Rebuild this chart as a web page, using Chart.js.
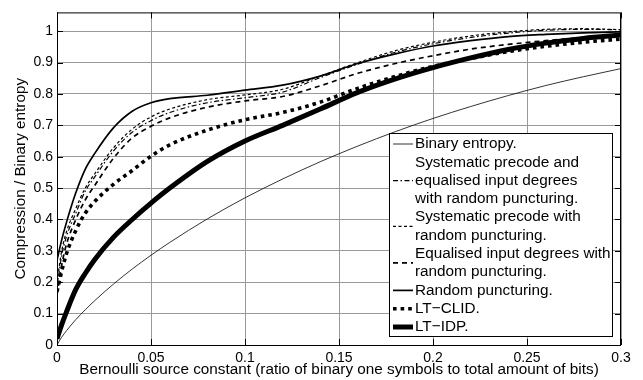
<!DOCTYPE html>
<html><head><meta charset="utf-8">
<script src="https://cdn.jsdelivr.net/npm/chart.js@4"></script>
<style>html,body{margin:0;padding:0;background:#fff}#wrap{width:643px;height:380px}</style>
</head><body><div id="wrap"><canvas id="c" width="643" height="380"></canvas></div>
<script>
// ---- data ----
const xValues = [0,0.0025,0.005,0.01,0.015,0.02,0.03,0.04,0.05,0.06,0.08,0.1,0.12,0.14,0.16,0.18,0.2,0.22,0.24,0.26,0.28,0.3];
const binaryEntropy = [0,0.025,0.045,0.081,0.112,0.141,0.194,0.242,0.286,0.327,0.402,0.469,0.529,0.584,0.634,0.680,0.722,0.760,0.795,0.827,0.855,0.881];
const sysEqPunct = [0.185,0.285,0.345,0.42,0.49,0.535,0.618,0.678,0.715,0.741,0.772,0.788,0.806,0.852,0.895,0.933,0.96,0.98,0.994,1.003,1.006,1.005];
const sysPunct = [0.2,0.3,0.36,0.435,0.50,0.545,0.628,0.688,0.727,0.752,0.782,0.797,0.815,0.857,0.90,0.938,0.965,0.985,0.998,1.006,1.008,1.005];
const eqPunct = [0.16,0.255,0.32,0.40,0.462,0.508,0.595,0.66,0.697,0.724,0.758,0.778,0.792,0.826,0.866,0.897,0.922,0.943,0.958,0.97,0.98,0.99];
const randomPunct = [0.27,0.335,0.39,0.485,0.56,0.61,0.692,0.745,0.772,0.785,0.796,0.812,0.828,0.857,0.897,0.928,0.953,0.97,0.983,0.99,0.995,0.998];
const ltClid = [0.17,0.235,0.29,0.365,0.42,0.457,0.512,0.556,0.602,0.638,0.685,0.718,0.741,0.774,0.818,0.856,0.888,0.913,0.935,0.952,0.965,0.975];
const ltIdp = [0.02,0.065,0.105,0.177,0.228,0.272,0.343,0.4,0.452,0.5,0.585,0.65,0.7,0.752,0.805,0.848,0.884,0.915,0.942,0.962,0.977,0.988];

const xTicks = [0,0.05,0.1,0.15,0.2,0.25,0.3];
const xTickLabels = ["0","0.05","0.1","0.15","0.2","0.25","0.3"];
const yTicks = [0,0.1,0.2,0.3,0.4,0.5,0.6,0.7,0.8,0.9,1];
const yTickLabels = ["0","0.1","0.2","0.3","0.4","0.5","0.6","0.7","0.8","0.9","1"];

const legendTexts = [
  ["Binary entropy."],
  ["Systematic precode and","equalised input degrees","with random puncturing."],
  ["Systematic precode with","random puncturing."],
  ["Equalised input degrees with","random puncturing."],
  ["Random puncturing."],
  ["LT\u2212CLID."],
  ["LT\u2212IDP."]
];
const xTitle = "Bernoulli source constant (ratio of binary one symbols to total amount of bits)";
const yTitle = "Compression / Binary entropy";

// ---- chart ----
const FONT = "'Liberation Sans', Arial, Helvetica, sans-serif";
const pts = arr => arr.map((v,i)=>({x:xValues[i], y:v}));
function ds(data, width, dash){
  return {data: pts(data), borderColor:'#000', borderWidth: width, borderDash: dash,
    borderCapStyle:'butt', pointRadius:0, fill:false, cubicInterpolationMode:'monotone'};
}
const datasets = [
  ds(binaryEntropy, 0.8, []),
  ds(sysEqPunct, 1.2, [5,2.5,1.5,2.5]),
  ds(sysPunct, 1.2, [3,2.5]),
  ds(eqPunct, 1.7, [5,4]),
  ds(randomPunct, 1.7, []),
  ds(ltClid, 3.6, [3.6,4]),
  ds(ltIdp, 5, [])
];
datasets.forEach((d,i)=>{ d.label = legendTexts[i].join(' '); });

const framePlugin = {
  id:'frame',
  afterDraw(chart){
    const {ctx, chartArea:a, scales} = chart;
    ctx.save();
    ctx.strokeStyle = '#000'; ctx.lineWidth = 1;
    ctx.strokeRect(a.left+0.5, a.top+0.5, a.right-a.left-1, a.bottom-a.top);
    ctx.beginPath();
    xTicks.forEach(v=>{ const px = Math.round(scales.x.getPixelForValue(v))+0.5;
      ctx.moveTo(px,a.bottom); ctx.lineTo(px,a.bottom-6);
      ctx.moveTo(px,a.top); ctx.lineTo(px,a.top+6); });
    yTicks.forEach(v=>{ const py = Math.round(scales.y.getPixelForValue(v))+0.5;
      ctx.moveTo(a.left,py); ctx.lineTo(a.left+6,py);
      ctx.moveTo(a.right,py); ctx.lineTo(a.right-6,py); });
    ctx.stroke();
    // legend
    const bx=389, by=133, bw=223, bh=203, lh=18.3, first=11;
    ctx.fillStyle='#fff'; ctx.fillRect(bx,by,bw,bh);
    ctx.strokeStyle='#000'; ctx.lineWidth=1;
    ctx.strokeRect(bx+0.5,by+0.5,bw,bh);
    ctx.font = "15.3px " + FONT; ctx.textBaseline='middle'; ctx.textAlign='left';
    let line = 0;
    legendTexts.forEach((lines,i)=>{
      const d = chart.data.datasets[i];
      const yMid = by + first + lh*(line + (lines.length-1)/2);
      ctx.save();
      ctx.strokeStyle='#000'; ctx.lineWidth=d.borderWidth; ctx.setLineDash(d.borderDash||[]);
      ctx.lineCap='butt';
      ctx.beginPath(); ctx.moveTo(393,yMid); ctx.lineTo(413,yMid); ctx.stroke();
      ctx.restore();
      ctx.fillStyle='#000';
      lines.forEach((t,j)=>{ ctx.fillText(t, 415, by+first+lh*(line+j)); });
      line += lines.length;
    });
    ctx.restore();
  }
};

Chart.defaults.color = '#000';
Chart.defaults.font.family = FONT;
new Chart(document.getElementById('c'), {
  type:'line',
  data:{datasets},
  options:{
    responsive:false, animation:false, devicePixelRatio:1,
    layout:{padding:{top:8,right:22,left:0,bottom:0}},
    plugins:{legend:{display:false}, tooltip:{enabled:false}},
    scales:{
      x:{type:'linear', min:0, max:0.3,
        afterBuildTicks:s=>{ s.ticks = xTicks.map(v=>({value:v})); },
        afterFit:s=>{ s.height = 35; },
        ticks:{font:{size:14}, padding:5, maxRotation:0, autoSkip:false,
          callback:(v,i)=>xTickLabels[i]},
        grid:{color:'#999', borderDash:[1,2], lineWidth:1, drawTicks:false},
        border:{display:false},
        title:{display:true, text:xTitle, font:{size:15.3}, padding:{top:0,bottom:1}}
      },
      y:{type:'linear', min:0, max:1.06,
        afterBuildTicks:s=>{ s.ticks = yTicks.map(v=>({value:v})); },
        afterFit:s=>{ s.width = 57; },
        ticks:{font:{size:14}, padding:4, autoSkip:false,
          callback:(v,i)=>yTickLabels[i]},
        grid:{color:'#999', borderDash:[1,2], lineWidth:1, drawTicks:false},
        border:{display:false},
        title:{display:true, text:yTitle, font:{size:15.3}, padding:{top:12,bottom:0}}
      }
    }
  },
  plugins:[framePlugin]
});
</script></body></html>
